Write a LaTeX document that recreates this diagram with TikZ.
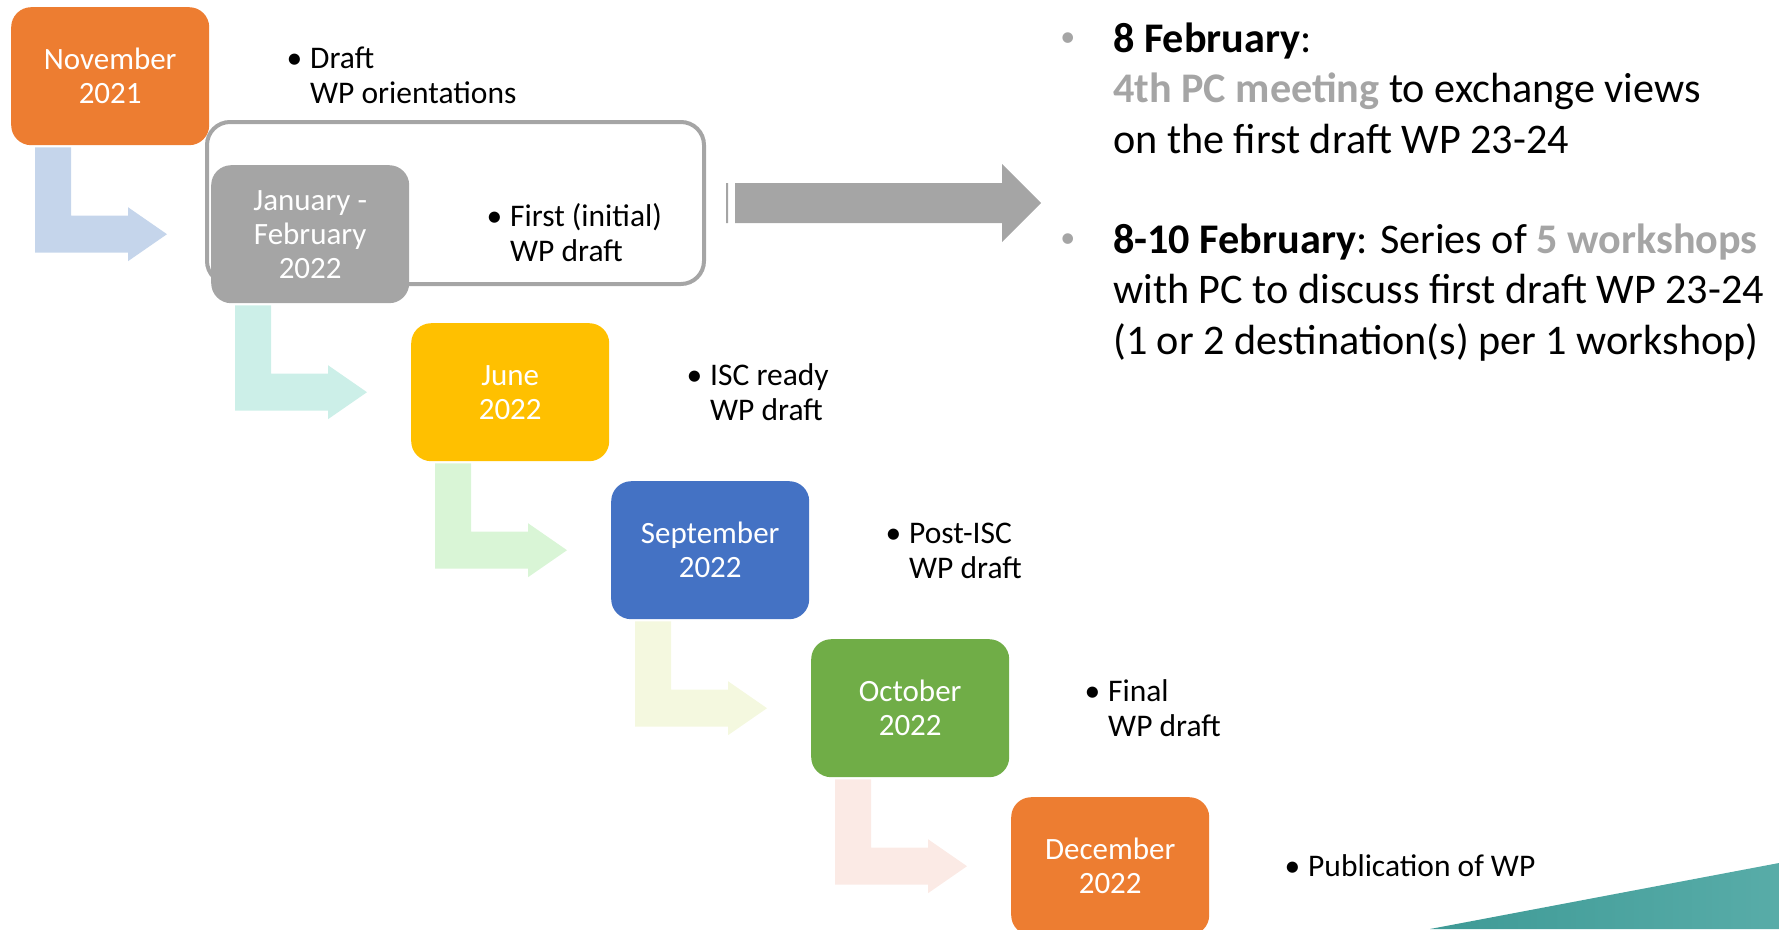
\documentclass[tikz,border=0pt]{standalone}
\usepackage{fontspec}
\setmainfont{Carlito}
\usetikzlibrary{calc}

\definecolor{boxorange}{HTML}{ED7D31}
\definecolor{boxgray}{HTML}{A5A5A5}
\definecolor{boxgold}{HTML}{FFC000}
\definecolor{boxblue}{HTML}{4472C4}
\definecolor{boxgreen}{HTML}{70AD47}
\definecolor{arrblue}{HTML}{C5D5EB}
\definecolor{arrteal}{HTML}{CCEFE8}
\definecolor{arrgreen}{HTML}{D9F5D6}
\definecolor{arrlime}{HTML}{F4F8DF}
\definecolor{arrpink}{HTML}{FBEAE5}
\definecolor{tealdark}{HTML}{3E9A96}
\definecolor{teallight}{HTML}{58ACA8}

\tikzset{
  month/.style={rounded corners=20pt, minimum width=198pt, minimum height=138pt,
    inner sep=0pt, anchor=north west, align=center, text=white,
    font=\fontsize{31}{34}\selectfont},
  note/.style={anchor=base west, align=left, inner sep=0pt,
    font=\fontsize{31.5}{35}\selectfont},
  bignote/.style={anchor=base west, align=left, inner sep=0pt,
    font=\fontsize{42.2}{50.5}\selectfont}
}

\newcommand{\bul}{\llap{\textbullet\hspace{8pt}}}
\newcommand{\graybul}{\llap{\raisebox{6pt}{\color{boxgray}\fontsize{30}{30}\selectfont\textbullet}\hspace{38pt}}}

% bent arrow from under box #1 to the left side of box #2
\newcommand{\bentarrow}[3]{%
  \fill[#3] let \p1 = (#1.south west), \p2 = (#2.west) in
    (\x1+24pt,\y1-2pt) -- (\x1+60pt,\y1-2pt) -- (\x1+60pt,\y2+18.5pt)
    -- (\x1+117pt,\y2+18.5pt) -- (\x1+117pt,\y2+27pt) -- (\x2-44pt,\y2)
    -- (\x1+117pt,\y2-27pt) -- (\x1+117pt,\y2-18.5pt) -- (\x1+24pt,\y2-18.5pt) -- cycle;}

\begin{document}
\begin{tikzpicture}[x=1pt,y=-1pt]
    \useasboundingbox (0,0) rectangle (1779,929);
    % frame round January - February
    \node[draw=boxgray, line width=4pt, rounded corners=23pt, minimum width=497pt,
        minimum height=162pt, anchor=north west] (grp) at (205,120) {};
    % months
    \node[month, fill=boxorange] (nov) at (11,7) {November\\2021};
    \node[month, fill=boxgray] (janfeb) at (211,165) {January -\\February\\2022};
    \node[month, fill=boxgold] (june) at (411,323) {June\\2022};
    \node[month, fill=boxblue] (sept) at (611,481) {September\\2022};
    \node[month, fill=boxgreen] (oct) at (811,639) {October\\2022};
    \node[month, fill=boxorange] (dec) at (1011,797) {December\\2022};
    \bentarrow{nov}{janfeb}{arrblue}
    \bentarrow{janfeb}{june}{arrteal}
    \bentarrow{june}{sept}{arrgreen}
    \bentarrow{sept}{oct}{arrlime}
    \bentarrow{oct}{dec}{arrpink}
    % notes (base = last line)
    \node[note] (n1) at (310,103) {\bul Draft\\WP orientations};
    \node[note] (n2) at (510,261) {\bul First (initial)\\WP draft};
    \node[note] (n3) at (710,420) {\bul ISC ready\\WP draft};
    \node[note] (n4) at (909,578) {\bul Post-ISC\\WP draft};
    \node[note] (n5) at (1108,736) {\bul Final\\WP draft};
    \node[note] (n6) at (1308,876) {\bul Publication of WP};
    % big arrow
    \coordinate (arrtip) at (1041,200);
    \fill[boxgray] let \p1 = (grp.east), \p2 = (arrtip) in
        (\x1+20pt,\y1+20pt) rectangle (\x1+22pt,\y1-20pt)
        (\x1+29pt,\y1+20pt) -- (\x2-39pt,\y1+20pt) -- (\x2-39pt,\y1+39pt) -- (\x2,\y1)
        -- (\x2-39pt,\y1-39pt) -- (\x2-39pt,\y1-20pt) -- (\x1+29pt,\y1-20pt) -- cycle;
    \node[bignote] (feb8) at (1113,153) {\graybul\textbf{8 February}:\\
        {\color{boxgray}\textbf{4th PC meeting}} to exchange views\\
        on the first draft WP 23-24};
    \node[bignote] (feb810) at (1113,354) {\graybul\textbf{8-10 February}: Series of {\color{boxgray}\textbf{5 workshops}}\\
        with PC to discuss first draft WP 23-24\\
        (1 or 2 destination(s) per 1 workshop)};
    % corner
    \shade[left color=tealdark, right color=teallight] (1430,929) -- (1779,863) -- (1779,929) -- cycle;
\end{tikzpicture}
\end{document}
